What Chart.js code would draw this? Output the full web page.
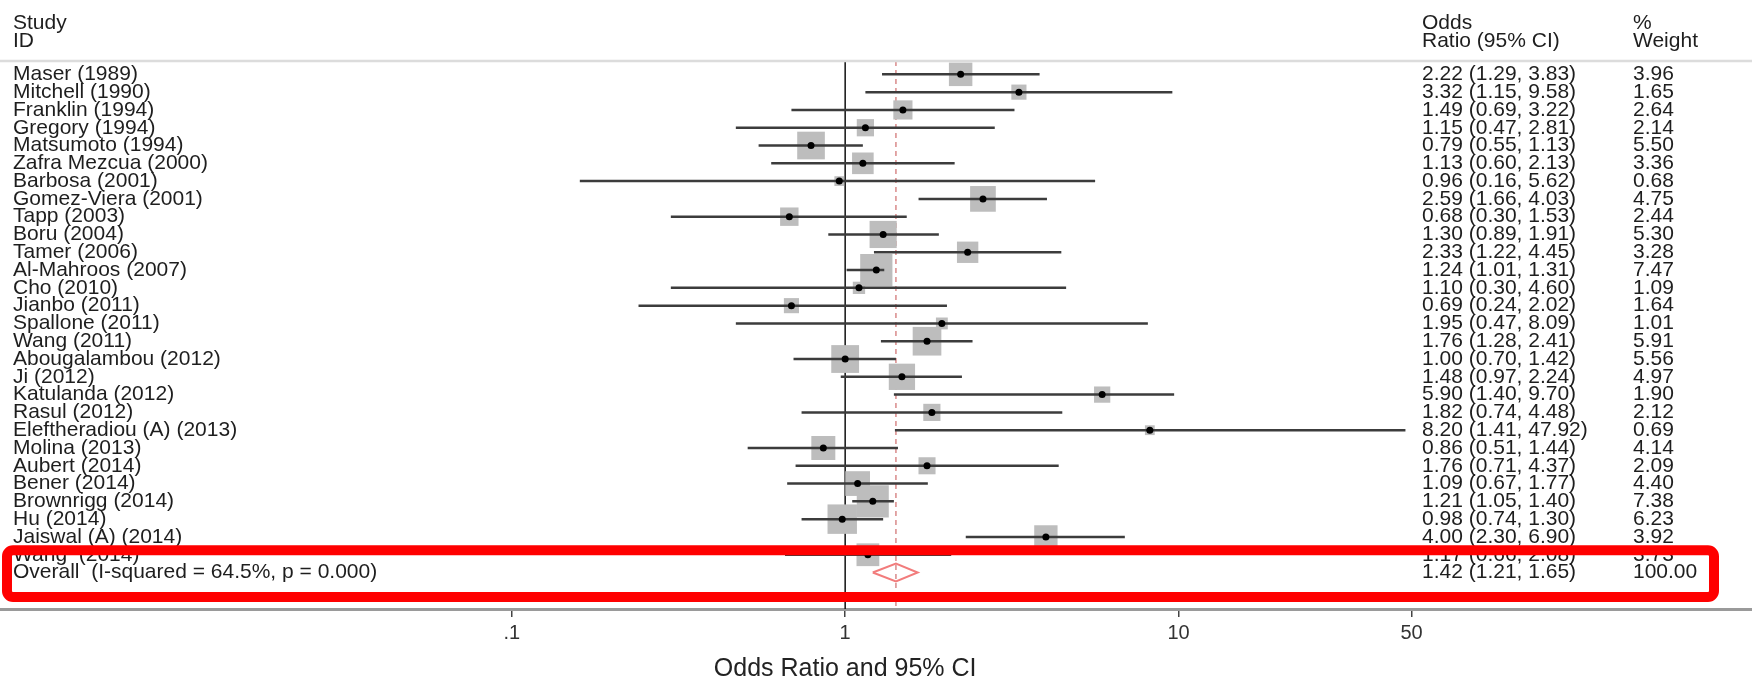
<!DOCTYPE html>
<html>
<head>
<meta charset="utf-8">
<script src="https://cdn.jsdelivr.net/npm/chart.js@4.4.1/dist/chart.umd.min.js"></script>
<style>
  html, body { margin: 0; padding: 0; background: #fff; }
  #wrap { width: 1752px; height: 682px; position: relative; }
</style>
</head>
<body>
<div id="wrap"><canvas id="forest"></canvas></div>
<script>
// ---- data ----
const studies = [
  'Maser (1989)', 'Mitchell (1990)', 'Franklin (1994)', 'Gregory (1994)', 'Matsumoto (1994)',
  'Zafra Mezcua (2000)', 'Barbosa (2001)', 'Gomez-Viera (2001)', 'Tapp (2003)', 'Boru (2004)',
  'Tamer (2006)', 'Al-Mahroos (2007)', 'Cho (2010)', 'Jianbo (2011)', 'Spallone (2011)',
  'Wang (2011)', 'Abougalambou (2012)', 'Ji (2012)', 'Katulanda (2012)', 'Rasul (2012)',
  'Eleftheradiou (A) (2013)', 'Molina (2013)', 'Aubert (2014)', 'Bener (2014)', 'Brownrigg (2014)',
  'Hu (2014)', 'Jaiswal (A) (2014)', 'Wang  (2014)'
];
const oddsRatios = [2.22, 3.32, 1.49, 1.15, 0.79, 1.13, 0.96, 2.59, 0.68, 1.30,
  2.33, 1.24, 1.10, 0.69, 1.95, 1.76, 1.00, 1.48, 5.90, 1.82,
  8.20, 0.86, 1.76, 1.09, 1.21, 0.98, 4.00, 1.17];
const ciLow = [1.29, 1.15, 0.69, 0.47, 0.55, 0.60, 0.16, 1.66, 0.30, 0.89,
  1.22, 1.01, 0.30, 0.24, 0.47, 1.28, 0.70, 0.97, 1.40, 0.74,
  1.41, 0.51, 0.71, 0.67, 1.05, 0.74, 2.30, 0.66];
const ciHigh = [3.83, 9.58, 3.22, 2.81, 1.13, 2.13, 5.62, 4.03, 1.53, 1.91,
  4.45, 1.31, 4.60, 2.02, 8.09, 2.41, 1.42, 2.24, 9.70, 4.48,
  47.92, 1.44, 4.37, 1.77, 1.40, 1.30, 6.90, 2.08];
const weights = [3.96, 1.65, 2.64, 2.14, 5.50, 3.36, 0.68, 4.75, 2.44, 5.30,
  3.28, 7.47, 1.09, 1.64, 1.01, 5.91, 5.56, 4.97, 1.90, 2.12,
  0.69, 4.14, 2.09, 4.40, 7.38, 6.23, 3.92, 3.73];

const overallLabel = 'Overall  (I-squared = 64.5%, p = 0.000)';
const overallOR = 1.42;
const overallLow = 1.21;
const overallHigh = 1.65;
const overallWeight = 100.00;

const tickValues = [0.1, 1, 10, 50];
const tickLabels = ['.1', '1', '10', '50'];
const axisTitle = 'Odds Ratio and 95% CI';

// ---- layout ----
const FONT = "'Liberation Sans', Arial, sans-serif";
const overallRow = studies.length;
const yMin = -0.75, yMax = 30.05;
const xMin = Math.pow(10, -2.535), xMax = Math.pow(10, 2.72);

const rows = studies.map((_, i) => i);

// CI segments separated by gaps
const ciData = [];
rows.forEach(i => {
  ciData.push({ x: ciLow[i], y: i }, { x: ciHigh[i], y: i }, { x: ciHigh[i], y: null });
});

const diamond = [
  { x: overallLow, y: overallRow },
  { x: overallOR, y: overallRow - 0.5 },
  { x: overallHigh, y: overallRow },
  { x: overallOR, y: overallRow + 0.5 },
  { x: overallLow, y: overallRow }
];

const fmt = v => v.toFixed(2);

const textPlugin = {
  id: 'forestText',
  afterDatasetsDraw(chart) {
    const { ctx, scales: { x, y }, chartArea } = chart;
    ctx.save();
    // header separator
    ctx.strokeStyle = '#dcdcdc';
    ctx.lineWidth = 2.5;
    ctx.beginPath();
    ctx.moveTo(0, chartArea.top);
    ctx.lineTo(chart.width, chartArea.top);
    ctx.stroke();

    ctx.fillStyle = '#1e1e1e';
    ctx.font = '21px ' + FONT;
    ctx.textBaseline = 'middle';
    ctx.textAlign = 'left';
    // headers
    ctx.fillText('Study', 13, 23);
    ctx.fillText('ID', 13, 41);
    ctx.fillText('Odds', 1422, 23);
    ctx.fillText('Ratio (95% CI)', 1422, 41);
    ctx.fillText('%', 1633, 23);
    ctx.fillText('Weight', 1633, 41);

    rows.forEach(i => {
      const py = y.getPixelForValue(i);
      ctx.fillText(studies[i], 13, py);
      ctx.fillText(fmt(oddsRatios[i]) + ' (' + fmt(ciLow[i]) + ', ' + fmt(ciHigh[i]) + ')', 1422, py);
      ctx.fillText(fmt(weights[i]), 1633, py);
    });
    const oy = y.getPixelForValue(overallRow);
    ctx.fillText(overallLabel, 13, oy);
    ctx.fillText(fmt(overallOR) + ' (' + fmt(overallLow) + ', ' + fmt(overallHigh) + ')', 1422, oy);
    ctx.fillText(fmt(overallWeight), 1633, oy);

    // axis title sits under the null line, not the middle of the axis
    ctx.font = '25px ' + FONT;
    ctx.fillStyle = '#222';
    ctx.textAlign = 'center';
    ctx.fillText(axisTitle, x.getPixelForValue(1), x.bottom - 12.5);
    ctx.restore();
  },
  afterDraw(chart) {
    // red highlight box around the last rows
    const { ctx, scales: { y } } = chart;
    const top = y.getPixelForValue(overallRow - 1.25);
    const bottom = y.getPixelForValue(overallRow + 1.38);
    ctx.save();
    ctx.strokeStyle = '#ff0000';
    ctx.lineWidth = 10;
    ctx.beginPath();
    ctx.roundRect(7, top, 1707, bottom - top, 6);
    ctx.stroke();
    ctx.restore();
  }
};

new Chart(document.getElementById('forest'), {
  type: 'scatter',
  data: {
    datasets: [
      { // point estimates
        data: rows.map(i => ({ x: oddsRatios[i], y: i })),
        pointStyle: 'circle', pointRadius: 3.5, pointBackgroundColor: '#000', pointBorderWidth: 0
      },
      { // confidence intervals
        data: ciData, showLine: true, spanGaps: false,
        borderColor: '#3c3c3c', borderWidth: 2.5, pointRadius: 0
      },
      { // overall diamond
        data: diamond, showLine: true, borderColor: '#f27c7c', borderWidth: 2,
        pointRadius: 0, tension: 0
      },
      { // weight boxes
        data: rows.map(i => ({ x: oddsRatios[i], y: i })),
        pointStyle: 'rect',
        pointRadius: ctx => 8.34 * Math.sqrt(weights[ctx.dataIndex] || 0),
        pointBackgroundColor: '#bdbdbd', pointBorderWidth: 0
      },
      { // overall effect (dashed)
        data: [{ x: overallOR, y: yMin }, { x: overallOR, y: yMax }],
        showLine: true, borderColor: '#d98a8a', borderWidth: 1.5, borderDash: [5, 4], pointRadius: 0
      },
      { // no effect line
        data: [{ x: 1, y: yMin }, { x: 1, y: yMax }],
        showLine: true, borderColor: '#111', borderWidth: 1.5, pointRadius: 0
      }
    ]
  },
  options: {
    responsive: true,
    maintainAspectRatio: false,
    animation: false,
    events: [],
    layout: { autoPadding: false, padding: { top: 61, left: 0, right: 0, bottom: 0 } },
    plugins: { legend: { display: false }, tooltip: { enabled: false } },
    scales: {
      x: {
        type: 'logarithmic',
        min: xMin,
        max: xMax,
        afterBuildTicks: scale => { scale.ticks = tickValues.map(v => ({ value: v })); },
        ticks: {
          autoSkip: false, maxRotation: 0, padding: 6,
          color: '#333', font: { size: 20, family: FONT, lineHeight: 1 },
          callback: v => tickLabels[tickValues.indexOf(v)] ?? ''
        },
        grid: { drawOnChartArea: false, drawTicks: true, tickLength: 8, color: '#444', lineWidth: 1.5 },
        border: { display: true, color: '#9a9a9a', width: 3 },
        title: {
          // keeps the room for the title; the text itself is drawn by forestText
          display: true, text: axisTitle, color: 'rgba(0,0,0,0)',
          font: { size: 25, family: FONT, lineHeight: 1 }, padding: { top: 8, bottom: 0 }
        }
      },
      y: {
        type: 'linear', reverse: true, min: yMin, max: yMax, display: false
      }
    }
  },
  plugins: [textPlugin]
});
</script>
</body>
</html>
